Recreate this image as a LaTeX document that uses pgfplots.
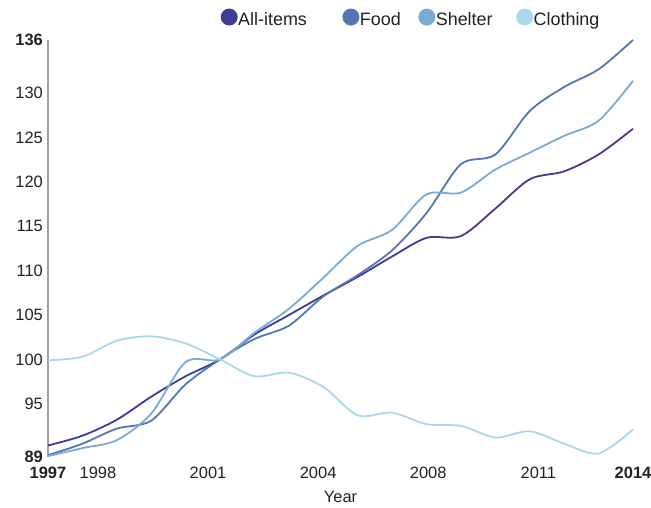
\documentclass[border=0pt]{standalone}
\usepackage{fontspec}
\setmainfont{Liberation Sans}
\usepackage{pgfplots}
\pgfplotsset{compat=1.18}
\definecolor{allc}{HTML}{3F3C96}
\definecolor{foodc}{HTML}{5475B5}
\definecolor{shelc}{HTML}{7AAAD4}
\definecolor{clothc}{HTML}{A8D8EA}
\definecolor{axgray}{HTML}{A0A0A0}
\definecolor{textc}{HTML}{222222}
\begin{document}
\begin{tikzpicture}
\path[use as bounding box] (-48bp,-51bp) rectangle (603bp,457bp);
\begin{axis}[
  scale only axis, width=585bp, height=417bp,
  xmin=1997, xmax=2014, ymin=89, ymax=136,
  clip=false,
  axis lines*=left,
  x axis line style={draw=none},
  y axis line style={draw=axgray, line width=1.6bp},
  major tick length=0pt,
  xtick={1997,1998.45,2001.65,2004.85,2008.05,2011.25,2014},
  xticklabels={\textbf{1997},1998,2001,2004,2008,2011,\textbf{2014}},
  ytick={89,95,100,105,110,115,120,125,130,136},
  yticklabels={\textbf{89},95,100,105,110,115,120,125,130,\textbf{136}},
  tick label style={font=\fontsize{16.5}{19}\selectfont, text=textc},
  xticklabel style={inner sep=0pt, yshift=-10bp},
  yticklabel style={inner sep=0pt, xshift=-5bp},
  xlabel={Year},
  xlabel style={at={(axis description cs:0.5,-0.096)}, anchor=center, font=\fontsize{16.5}{19}\selectfont, text=textc},
  every axis plot/.append style={line width=1.8bp, smooth, no markers},
  legend columns=4,
  legend image code/.code={\fill[#1,draw=none] (0bp,2.5bp) circle (8.5bp);},
  legend style={at={(axis description cs:0.2949,1.053)}, anchor=west,
    draw=none, fill=none, inner sep=0pt,
    font=\fontsize{18}{21}\selectfont, text=textc,
    nodes={inner sep=0.5bp}},
]
\addplot[color=allc] coordinates {
(1997,90.3) (1998,91.4) (1999,93.2) (2000,95.8) (2001,98.1) (2002,100.0)
(2003,102.8) (2004,105.0) (2005,107.2) (2006,109.3) (2007,111.6) (2008,113.7)
(2009,113.9) (2010,117.0) (2011,120.3) (2012,121.2) (2013,123.1) (2014,126.0)};
\addlegendentry{All-items\hspace*{35bp}}
\addplot[color=foodc] coordinates {
(1997,89.2) (1998,90.5) (1999,92.2) (2000,93.1) (2001,97.2) (2002,100.0)
(2003,102.3) (2004,103.8) (2005,107.1) (2006,109.5) (2007,112.3) (2008,116.5)
(2009,122.0) (2010,123.1) (2011,128.0) (2012,130.7) (2013,132.7) (2014,136.0)};
\addlegendentry{Food\hspace*{17bp}}
\addplot[color=shelc] coordinates {
(1997,89.1) (1998,90.0) (1999,90.9) (2000,93.9) (2001,99.7) (2002,100.0)
(2003,103.0) (2004,105.7) (2005,109.2) (2006,112.8) (2007,114.6) (2008,118.6)
(2009,118.8) (2010,121.4) (2011,123.3) (2012,125.2) (2013,126.9) (2014,131.4)};
\addlegendentry{Shelter\hspace*{23bp}}
\addplot[color=clothc] coordinates {
(1997,99.9) (1998,100.3) (1999,102.1) (2000,102.6) (2001,101.8) (2002,100.0)
(2003,98.1) (2004,98.5) (2005,96.9) (2006,93.7) (2007,94.0) (2008,92.7)
(2009,92.5) (2010,91.2) (2011,91.9) (2012,90.5) (2013,89.4) (2014,92.1)};
\addlegendentry{Clothing}
\end{axis}
\end{tikzpicture}
\end{document}
